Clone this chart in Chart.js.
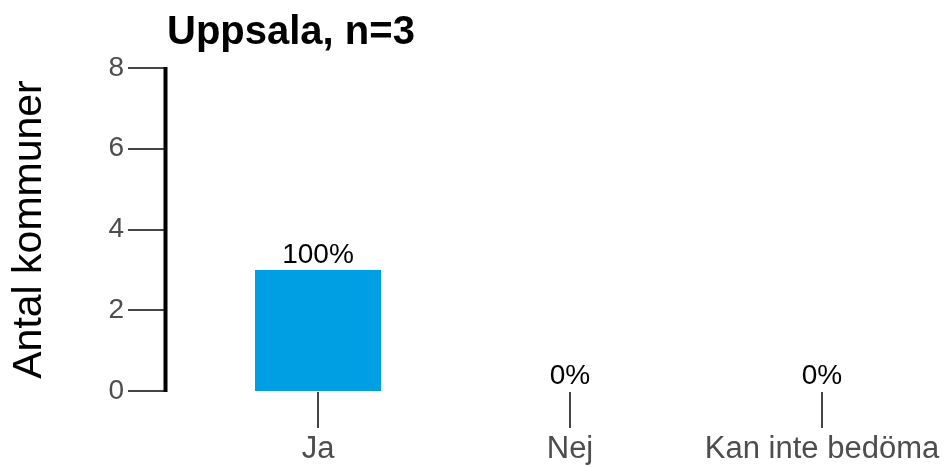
<!DOCTYPE html>
<html>
<head>
<meta charset="utf-8">
<script src="https://cdn.jsdelivr.net/npm/chart.js@4/dist/chart.umd.min.js"></script>
<style>
  html, body { margin: 0; padding: 0; background: #fff; overflow: hidden; }
  canvas { display: block; }
</style>
</head>
<body>
<canvas id="chart" width="948" height="467"></canvas>
<script>
const chartTitle = 'Uppsala, n=3';
const categories = ['Ja', 'Nej', 'Kan inte bedöma'];
const counts = [3, 0, 0];
const percentLabels = ['100%', '0%', '0%'];
const yTicks = [0, 2, 4, 6, 8];

const FONT = '"Liberation Sans", Arial, sans-serif';

// egen ritning av axellinje, tickmarkeringar, titel och procentetiketter
const decor = {
    id: 'decor',
    afterDraw(chart) {
        const ctx = chart.ctx;
        const y = chart.scales.y;
        const x = chart.scales.x;
        const axisX = 165.5;
        ctx.save();

        // y-tickar
        ctx.strokeStyle = '#444';
        ctx.lineWidth = 2;
        yTicks.forEach(v => {
            const py = Math.round(y.getPixelForValue(v));
            ctx.beginPath();
            ctx.moveTo(128, py);
            ctx.lineTo(axisX, py);
            ctx.stroke();
        });

        // x-tickar
        categories.forEach((c, i) => {
            const px = Math.round(x.getPixelForValue(i));
            ctx.beginPath();
            ctx.moveTo(px, y.bottom + 1);
            ctx.lineTo(px, y.bottom + 37);
            ctx.stroke();
        });

        // y-axellinje
        ctx.strokeStyle = '#000';
        ctx.lineWidth = 4;
        ctx.beginPath();
        ctx.moveTo(axisX, y.top - 1);
        ctx.lineTo(axisX, y.bottom + 1);
        ctx.stroke();

        // procent ovanför staplarna
        const meta = chart.getDatasetMeta(0);
        ctx.fillStyle = '#000';
        ctx.font = '28px ' + FONT;
        ctx.textAlign = 'center';
        ctx.textBaseline = 'alphabetic';
        meta.data.forEach((bar, i) => {
            ctx.fillText(percentLabels[i], bar.x, bar.y - 7);
        });

        // titel
        ctx.font = 'bold 40px ' + FONT;
        ctx.textAlign = 'left';
        ctx.fillText(chartTitle, 167, 44);
        ctx.restore();
    }
};

new Chart(document.getElementById('chart'), {
    type: 'bar',
    data: {
        labels: categories,
        datasets: [{
            data: counts,
            backgroundColor: '#009fe3',
            barPercentage: 0.5,
            categoryPercentage: 1.0
        }]
    },
    options: {
        responsive: false,
        animation: false,
        devicePixelRatio: 1,
        layout: { padding: { top: 68, right: 0, bottom: 0, left: 0 } },
        plugins: {
            legend: { display: false },
            tooltip: { enabled: false }
        },
        scales: {
            x: {
                grid: { display: false, drawTicks: false },
                border: { display: false },
                ticks: {
                    color: '#4d4d4d',
                    font: { family: FONT, size: 31 },
                    padding: 40,
                    maxRotation: 0,
                    autoSkip: false
                },
                afterFit: s => {
                    s.height = 76;
                    s.paddingLeft = 0;
                    s.paddingRight = 0;
                }
            },
            y: {
                min: 0,
                max: 8,
                grid: { display: false, drawTicks: false },
                border: { display: false },
                ticks: {
                    stepSize: 2,
                    color: '#4d4d4d',
                    font: { family: FONT, size: 28 },
                    padding: 68
                },
                title: {
                    display: true,
                    text: 'Antal kommuner',
                    color: '#000',
                    font: { family: FONT, size: 41 },
                    padding: { top: 5, bottom: 0 }
                },
                afterFit: s => {
                    s.width = 192;
                    s.paddingTop = 0;
                    s.paddingBottom = 0;
                }
            }
        }
    },
    plugins: [decor]
});
</script>
</body>
</html>
